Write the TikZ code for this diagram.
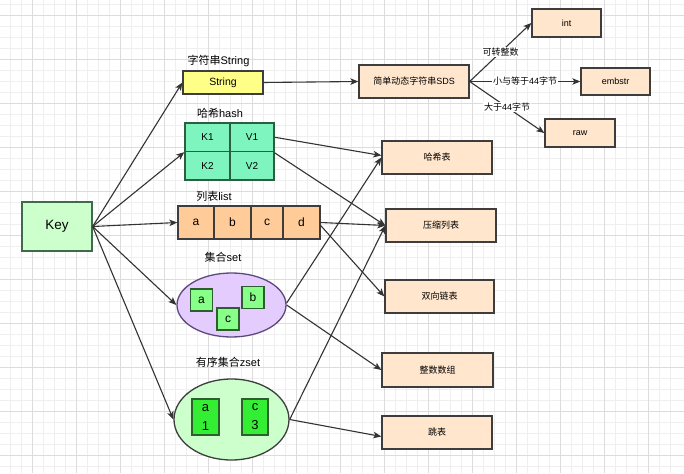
\documentclass[tikz,border=0pt]{standalone}
\usepackage{fontspec}
\setmainfont{Liberation Sans}
\newfontfamily\cjk{Noto Sans CJK SC}
\usetikzlibrary{arrows.meta,shapes.geometric}
\definecolor{gridminor}{HTML}{EFEFEF}
\definecolor{gridmajor}{HTML}{DCDCDC}
\definecolor{boxline}{HTML}{3D3D3D}
\definecolor{arrowc}{HTML}{333333}
\definecolor{keyfill}{HTML}{CCFFCC}
\definecolor{keyline}{HTML}{3F6B4A}
\definecolor{strfill}{HTML}{FFFF88}
\definecolor{hashfill}{HTML}{7EF5BF}
\definecolor{hashline}{HTML}{2D5E3F}
\definecolor{listfill}{HTML}{FFCC99}
\definecolor{setfill}{HTML}{E5CCFF}
\definecolor{setline}{HTML}{5C4A7A}
\definecolor{sqfill}{HTML}{88FF88}
\definecolor{sqline}{HTML}{2D5E2D}
\definecolor{zfill}{HTML}{CCFFCC}
\definecolor{zinfill}{HTML}{33EE33}
\definecolor{rfill}{HTML}{FFE6CC}
\begin{document}
\begin{tikzpicture}[x=1pt,y=-1pt,
  minorline/.style={draw=gridminor,line width=0.6pt},
  majorline/.style={draw=gridmajor,line width=0.7pt},
  box/.style={draw=boxline,line width=1.3pt,rectangle,inner sep=0pt,anchor=center},
  rbox/.style={box,fill=rfill,font=\fontsize{9}{10}\selectfont},
  cell/.style={box,fill=listfill,minimum height=33pt,font=\fontsize{12}{14}\selectfont},
  hcell/.style={box,draw=hashline,fill=hashfill,minimum width=45pt,minimum height=28.5pt,font=\fontsize{10}{12}\selectfont},
  sq/.style={box,draw=sqline,fill=sqfill,minimum width=22pt,minimum height=22pt,font=\fontsize{12}{14}\selectfont},
  zsq/.style={box,draw=sqline,fill=zinfill,minimum height=36pt,font=\fontsize{13}{15}\selectfont,align=center},
  lbl/.style={font=\fontsize{11}{13}\selectfont,inner sep=0pt},
  elbl/.style={fill=white,inner sep=1pt,font=\fontsize{9}{10}\selectfont},
  arr/.style={draw=arrowc,line width=1.1pt,-{Stealth[length=8pt,width=6.5pt,inset=2pt]}}]
\useasboundingbox (0,0) rectangle (684,473);
\fill[white] (0,0) rectangle (684,473);
% grid
\foreach \x in {10,21,...,680} \draw[minorline] (\x,0) -- (\x,473);
\foreach \y in {4,15,...,470} \draw[minorline] (0,\y) -- (684,\y);
\foreach \x in {32,76,...,680} \draw[majorline] (\x,0) -- (\x,473);
\foreach \y in {15,59,...,470} \draw[majorline] (0,\y) -- (684,\y);

% Key
\node[box,draw=keyline,fill=keyfill,minimum width=70pt,minimum height=49pt,font=\fontsize{13.5}{15}\selectfont] (key) at (57,226.5) {Key};

% String
\node[lbl] (strlbl) at (218.5,61) {{\cjk 字符串}String};
\node[box,fill=strfill,minimum width=80pt,minimum height=23pt,font=\fontsize{10.5}{12}\selectfont] (str) at (223,82.5) {String};

% hash
\node[lbl] (hashlbl) at (220,113) {{\cjk 哈希}hash};
\node[hcell] (k1) at (207.5,137.25) {K1};
\node[hcell,minimum width=44pt] (v1) at (252,137.25) {V1};
\node[hcell] (k2) at (207.5,165.75) {K2};
\node[hcell,minimum width=44pt] (v2) at (252,165.75) {V2};

% list
\node[lbl] (listlbl) at (214,196) {{\cjk 列表}list};
\node[cell,minimum width=36pt] (la) at (196,222.5) {a};
\node[cell,minimum width=37pt] (lb) at (232.5,222.5) {b};
\node[cell,minimum width=32pt] (lc) at (267,222.5) {c};
\node[cell,minimum width=37pt] (ld) at (301.5,222.5) {d};

% set
\node[lbl] (setlbl) at (223,257) {{\cjk 集合}set};
\node[ellipse,draw=setline,line width=1.3pt,fill=setfill,minimum width=109pt,minimum height=64pt,inner sep=0pt] (set) at (231.5,305) {};
\node[sq] (sa) at (201.5,300) {a};
\node[sq] (sb) at (253,297.5) {b};
\node[sq] (sc) at (228,319) {c};

% zset
\node[lbl] (zsetlbl) at (228,362) {{\cjk 有序集合}zset};
\node[ellipse,draw=boxline,line width=1.3pt,fill=zfill,minimum width=115pt,minimum height=81pt,inner sep=0pt] (zset) at (231.5,419.5) {};
\node[zsq,minimum width=27pt] (za) at (205.5,417) {a\\[4pt]1};
\node[zsq,minimum width=26pt] (zc) at (255,417) {c\\[4pt]3};

% right boxes
\node[rbox,minimum width=110pt,minimum height=33pt] (sds) at (414,81.5) {{\cjk 简单动态字符串}SDS};
\node[rbox,minimum width=69pt,minimum height=28pt] (int) at (566.5,23) {int};
\node[rbox,minimum width=69pt,minimum height=27pt] (emb) at (615.5,81.5) {embstr};
\node[rbox,minimum width=70pt,minimum height=28pt] (raw) at (580,133) {raw};
\node[rbox,minimum width=110pt,minimum height=33pt] (ht) at (437,157.5) {\cjk 哈希表};
\node[rbox,minimum width=110pt,minimum height=33pt] (zl) at (441,225.5) {\cjk 压缩列表};
\node[rbox,minimum width=109pt,minimum height=33pt] (ll) at (439.5,296.5) {\cjk 双向链表};
\node[rbox,minimum width=111pt,minimum height=34pt] (is) at (437.5,370) {\cjk 整数数组};
\node[rbox,minimum width=110pt,minimum height=33pt] (sk) at (437,432.5) {\cjk 跳表};

% edges from key
\draw[arr] (key.east) -- (str.west);
\draw[arr] (key.east) -- (k1.south west);
\draw[arr] (key.east) -- (la.west);
\draw[arr] (key.east) -- (set.west);
\draw[arr] (key.east) -- (zset.west);

% string
\draw[arr] (str.east) -- (sds.west);
\draw[arr] (sds.east) -- node[elbl]{\cjk 可转整数} (int.west);
\draw[arr] (sds.east) -- node[elbl]{{\cjk 小与等于}44{\cjk 字节}} (emb.west);
\draw[arr] (sds.east) -- node[elbl]{{\cjk 大于}44{\cjk 字节}} (raw.west);

% hash
\draw[arr] (v1.east) -- ([yshift=2pt]ht.west);
\draw[arr] ([yshift=-2pt]v2.north east) -- (zl.west);
% list
\draw[arr] (ld.east) -- (zl.west);
\draw[arr] ([yshift=-3pt]ld.east) -- (ll.west);
% set
\draw[arr] ([yshift=2pt]set.east) -- (ht.west);
\draw[arr] (set.east) -- (is.west);
% zset
\draw[arr] (zset.east) -- (zl.west);
\draw[arr] (zset.east) -- ([yshift=-4pt]sk.west);
\end{tikzpicture}
\end{document}
